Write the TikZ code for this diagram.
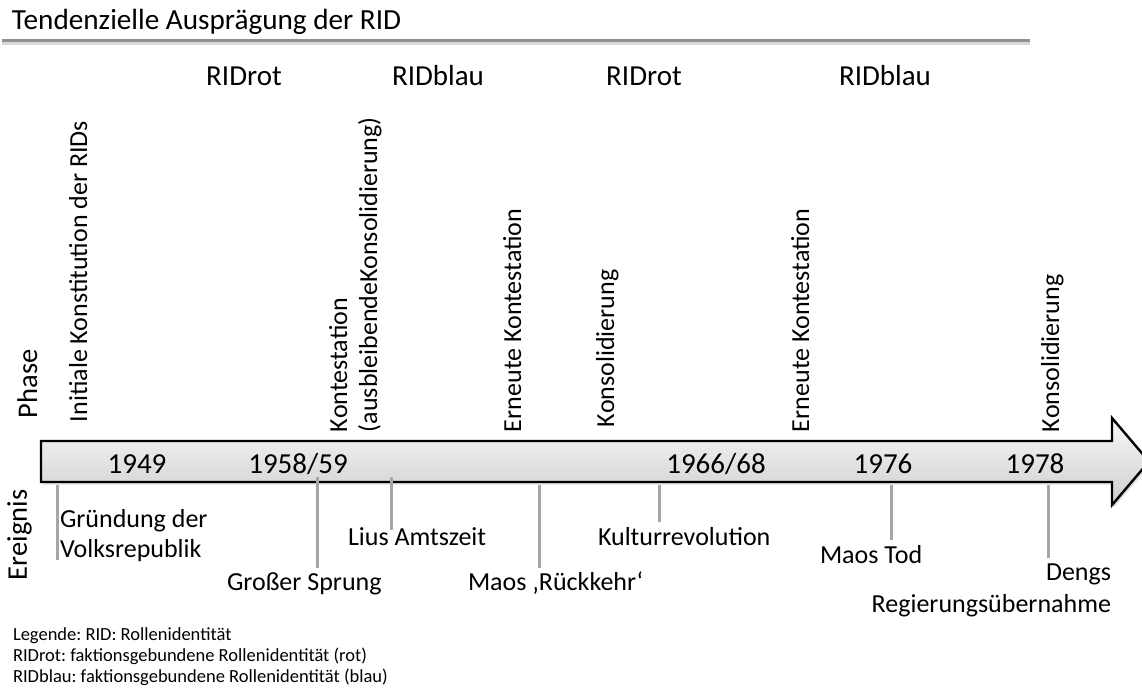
\documentclass[tikz,border=0pt]{standalone}
\usepackage{fontspec}
\setmainfont{Carlito}
\usetikzlibrary{shadows}
\frenchspacing
\begin{document}
\begin{tikzpicture}[x=1pt,y=1pt,
  every node/.style={inner sep=0pt, outer sep=0pt, text=black},
  big/.style={font=\fontsize{29}{34}\selectfont},
  ev/.style={font=\fontsize{26}{31}\selectfont, anchor=base west},
  evr/.style={font=\fontsize{26}{31}\selectfont, anchor=base east},
  vert/.style={font=\fontsize{26}{31}\selectfont, rotate=90, anchor=base west},
  vbig/.style={font=\fontsize{28.5}{34}\selectfont, rotate=90, anchor=base west},
  tickline/.style={draw=gray!70, line width=3pt},
  leg/.style={font=\fontsize{18.5}{20}\selectfont, anchor=base west}]
\useasboundingbox (0,0) rectangle (1142,-690);

% title and rule
\node[font=\fontsize{29.2}{34}\selectfont, anchor=base west] (title) at (12,-30) {Tendenzielle Ausprägung der RID};
\coordinate (rl) at (2,-41);
\coordinate (rr) at (1030,-41);
\draw[gray!30, line width=3pt] ([yshift=-2.5pt]rl) -- ([yshift=-2.5pt]rr);
\draw[gray!75!black!70, line width=3pt] (rl) -- (rr);

% RID labels
\node[big, anchor=base] (r1) at (244,-86) {RIDrot};
\node[big, anchor=base] (b1) at (438,-86) {RIDblau};
\node[big, anchor=base] (r2) at (644,-86) {RIDrot};
\node[big, anchor=base] (b2) at (885,-86) {RIDblau};

% axis labels
\node[vbig] (phase) at (37,-418) {Phase};
\node[vbig] (ereignis) at (27,-580) {Ereignis};

% arrow
\path[draw=black, line width=2.4pt, line join=miter, top color=gray!6, bottom color=gray!38,
  drop shadow={opacity=0.25, shadow xshift=2pt, shadow yshift=-2.5pt}]
  (41,-441) -- (1112,-441) -- (1112,-418) -- (1149,-461.5) -- (1112,-505)
  -- (1112,-482) -- (41,-482) -- cycle;

% years
\node[big, anchor=base] (y1) at (137,-473) {1949};
\node[big, anchor=base] (y2) at (298,-473) {1958/59};
\node[big, anchor=base] (y3) at (716,-473) {1966/68};
\node[big, anchor=base] (y4) at (883,-473) {1976};
\node[big, anchor=base] (y5) at (1035,-473) {1978};

% phases
\node[vert] (p1) at (87,-422) {Initiale Konstitution der RIDs};
\node[vert] (p2) at (347,-432) {Kontestation};
\node[vert] (p2b) at (377,-432) {(ausbleibendeKonsolidierung)};
\node[vert] (p3) at (521,-432) {Erneute Kontestation};
\node[vert] (p4) at (614,-427) {Konsolidierung};
\node[vert] (p5) at (809,-432) {Erneute Kontestation};
\node[vert] (p6) at (1059,-432) {Konsolidierung};

% event ticks
\coordinate (t1a) at (57,-485);  \coordinate (t1b) at (57,-560);
\coordinate (t2a) at (317,-477); \coordinate (t2b) at (317,-568);
\coordinate (t3a) at (391,-477); \coordinate (t3b) at (391,-530);
\coordinate (t4a) at (539,-485); \coordinate (t4b) at (539,-568);
\coordinate (t5a) at (659,-485); \coordinate (t5b) at (659,-522);
\coordinate (t6a) at (891,-485); \coordinate (t6b) at (891,-540);
\coordinate (t7a) at (1048,-485);\coordinate (t7b) at (1048,-558);
\foreach \i in {1,...,7} \draw[tickline] (t\i a) -- (t\i b);

% events
\node[ev] (e1) at (60,-527) {Gründung der};
\node[ev] (e1b) at (60,-557) {Volksrepublik};
\node[ev] (e2) at (227,-590) {Großer Sprung};
\node[ev] (e3) at (348,-545) {Lius Amtszeit};
\node[ev] (e4) at (468,-590) {Maos ‚Rückkehr‘};
\node[ev] (e5) at (598,-545) {Kulturrevolution};
\node[ev] (e6) at (820,-563) {Maos Tod};
\node[evr] (e7) at (1111,-580) {Dengs};
\node[evr] (e7b) at (1111,-612) {Regierungsübernahme};

% legend
\node[leg] (l1) at (13,-640) {Legende: RID: Rollenidentität};
\node[leg] (l2) at (13,-661) {RIDrot: faktionsgebundene Rollenidentität (rot)};
\node[leg] (l3) at (13,-682) {RIDblau: faktionsgebundene Rollenidentität (blau)};
\end{tikzpicture}
\end{document}
